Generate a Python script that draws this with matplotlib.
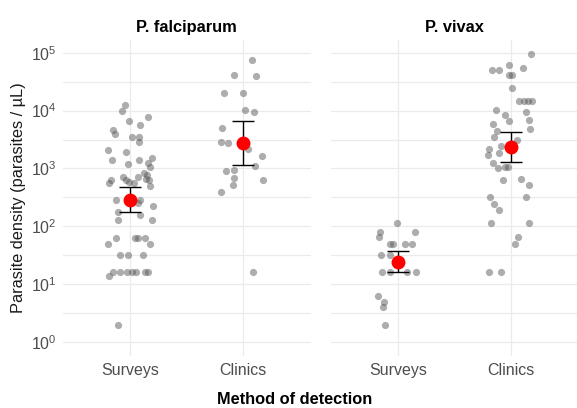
import numpy as np
import matplotlib
matplotlib.use("Agg")
from matplotlib import pyplot as plt
from matplotlib import ticker

plt.rcParams['font.family'] = ['Liberation Sans', 'DejaVu Sans']

methods = ["Surveys", "Clinics"]
species = ["P. falciparum", "P. vivax"]

# parasite densities (parasites / uL) per isolate, with the horizontal jitter used for each
pf_surveys = [12400, 9800, 6600, 7800, 5600, 4700, 3900, 3500, 3550, 2900,
              2100, 1950, 1380, 1200, 1380, 1510, 1230, 1050, 725, 620,
              560, 630, 590, 725, 850, 760, 630, 660, 560, 490,
              288, 288, 250, 225, 178, 160, 130, 128, 64, 64,
              64, 64, 49, 49, 32, 32, 32, 16, 16, 16,
              16, 16, 16, 16, 14, 2]
pf_surveys_jit = [-0.05, -0.074, -0.009, 0.154, 0.086, -0.154, -0.136, 0.018, 0.074, 0.077,
                  -0.198, -0.038, -0.163, -0.024, 0.077, 0.189, 0.160, 0.172, -0.065, -0.169,
                  -0.192, -0.036, -0.012, 0.068, 0.121, 0.151, 0.166, 0.142, 0.033, 0.178,
                  -0.124, 0.086, 0.068, 0.201, -0.110, 0.086, -0.110, 0.195, -0.130, 0.038,
                  0.068, 0.130, -0.198, 0.178, -0.095, -0.018, 0.115, -0.154, -0.095, -0.030,
                  0.018, 0.047, 0.127, 0.154, -0.192, -0.112]

pf_clinics = [76000, 42000, 40000, 20000, 20000, 10200, 9300, 5000, 2900, 2800,
              2150, 1620, 1110, 910, 950, 675, 645, 515, 390, 16]
pf_clinics_jit = [0.083, -0.083, 0.118, -0.166, 0.003, 0.018, 0.095, -0.189, -0.195, -0.130,
                  0.044, 0.172, 0.104, -0.154, -0.077, -0.083, 0.181, -0.089, -0.195, 0.089]

pv_surveys = [114, 81, 81, 65, 49, 49, 49, 49, 32, 32,
              16, 16, 16, 16, 6.2, 5, 4.1, 2]
pv_surveys_jit = [-0.009, -0.160, 0.151, -0.172, -0.074, -0.044, 0.059, 0.118, -0.157, -0.074,
                  -0.145, -0.074, 0.080, 0.157, -0.178, -0.124, -0.133, -0.118]

pv_clinics = [95000, 62000, 55000, 50000, 50000, 41000, 41000, 25000, 14800, 14800,
              14800, 14800, 10200, 9300, 8300, 6500, 6800, 5900, 4800, 4500,
              3500, 3100, 2400, 2200, 1740, 1820, 1260, 1000, 1080, 1080,
              630, 660, 525, 318, 318, 240, 190, 114, 114, 65,
              49, 16, 16]
pv_clinics_jit = [0.172, -0.021, 0.104, -0.169, -0.112, -0.021, 0.009, 0.006, 0.068, 0.110,
                  0.148, 0.184, -0.133, 0.133, -0.053, -0.021, 0.154, -0.157, 0.169, -0.127,
                  -0.148, 0.053, -0.089, -0.192, -0.201, -0.112, -0.157, -0.118, -0.050, -0.024,
                  -0.068, 0.089, 0.160, -0.186, 0.130, -0.148, -0.112, -0.181, 0.157, 0.062,
                  0.038, -0.195, -0.089]

# geometric means with lower / upper 95% CI, order: Surveys, Clinics
pf_mean = [288, 2800]
pf_lo = [174, 1150]
pf_hi = [475, 6700]
pv_mean = [24, 2340]
pv_lo = [16, 1320]
pv_hi = [37, 4300]

panels = [
    (species[0], [(pf_surveys, pf_surveys_jit), (pf_clinics, pf_clinics_jit)], pf_mean, pf_lo, pf_hi),
    (species[1], [(pv_surveys, pv_surveys_jit), (pv_clinics, pv_clinics_jit)], pv_mean, pv_lo, pv_hi),
]

W, H = 577, 408
fig = plt.figure(figsize=(W / 100, H / 100), dpi=100)

grid_col = "#EBEBEB"
text_col = "#4D4D4D"
lefts = [62.6, 330.7]
pw = 248.1
bottom_px, top_px = 356, 40

for k, (name, groups, mean, lo, hi) in enumerate(panels):
    ax = fig.add_axes([lefts[k] / W, (H - bottom_px) / H, pw / W, (bottom_px - top_px) / H])
    ax.set_yscale("log")
    ax.set_ylim(10 ** -0.24, 10 ** 5.22)
    ax.set_xlim(0.4, 2.6)

    for i, (vals, jit) in enumerate(groups):
        xs = (i + 1) + np.array(jit)
        ax.scatter(xs, vals, s=27, color="#555555", alpha=0.48, linewidths=0, zorder=3)

    pos = np.arange(1, len(methods) + 1)
    mean = np.array(mean)
    yerr = [mean - np.array(lo), np.array(hi) - mean]
    ax.errorbar(pos, mean, yerr=yerr, fmt="none", ecolor="black", elinewidth=1.0,
                capsize=8, capthick=1.0, zorder=4)
    ax.plot(pos, mean, "o", color="red", ms=10, mec="none", zorder=5)

    ax.set_xticks(pos)
    ax.set_xticklabels(methods)
    ax.yaxis.set_major_locator(ticker.FixedLocator([10.0 ** e for e in range(0, 6)]))
    ax.yaxis.set_minor_locator(ticker.FixedLocator([10.0 ** (e + 0.5) for e in range(-1, 6)]))
    ax.yaxis.set_minor_formatter(ticker.NullFormatter())
    ax.grid(True, which="major", color=grid_col, linewidth=0.9)
    ax.grid(True, which="minor", axis="y", color=grid_col, linewidth=0.9)
    ax.set_axisbelow(True)
    for sp in ax.spines.values():
        sp.set_visible(False)
    ax.tick_params(which="both", length=0, labelsize=11.5, labelcolor=text_col)
    ax.tick_params(axis="x", pad=5)
    ax.tick_params(axis="y", pad=4)
    if k > 0:
        ax.tick_params(axis="y", labelleft=False)
    else:
        ax.set_ylabel("Parasite density (parasites / µL)", fontsize=11.8, color="#1a1a1a", labelpad=4)
    ax.set_title(name, fontsize=11.8, fontweight="bold", pad=6)

fig.text(295 / W, 1 - 399 / H, "Method of detection", ha="center", va="center",
         fontsize=11.8, fontweight="bold")

fig.savefig("out.png", dpi=100)
